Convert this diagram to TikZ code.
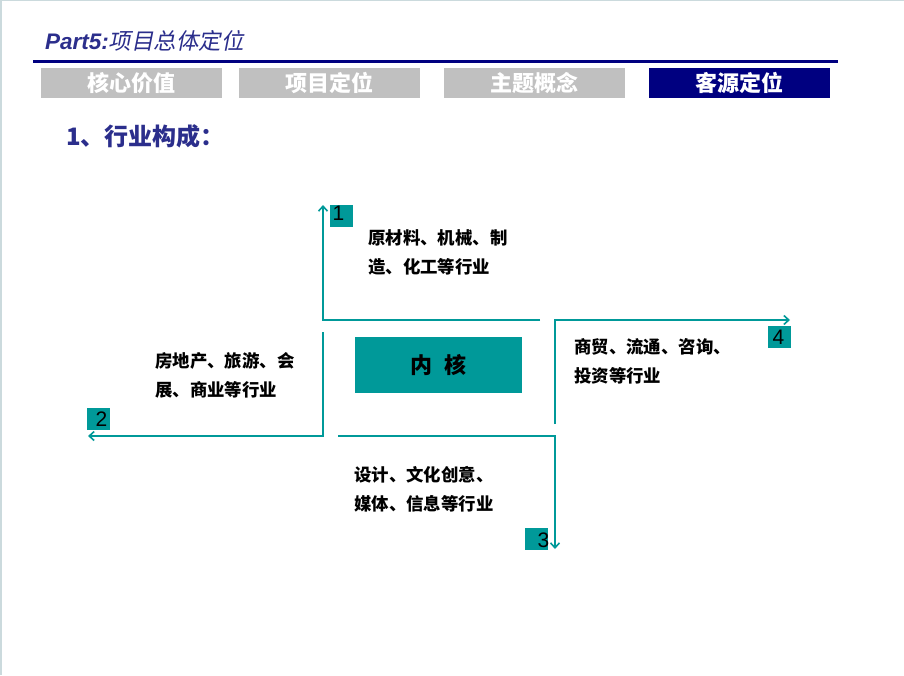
\documentclass[tikz,border=0pt]{standalone}
\usepackage{fontspec}
\setmainfont{Liberation Sans}
\newfontfamily\cjk{Noto Sans CJK SC}
\newfontfamily\cjkslant[FakeSlant=0.2]{Noto Sans CJK SC}
\usetikzlibrary{positioning, arrows.meta}
\definecolor{titleBlue}{HTML}{2B2E8C}
\definecolor{navyBar}{HTML}{000080}
\definecolor{tabGray}{HTML}{C0C0C0}
\definecolor{coreTeal}{HTML}{009999}
\definecolor{edgeGray}{HTML}{CBDADD}

\begin{document}
\begin{tikzpicture}[x=1pt, y=-1pt,
    tab/.style={minimum width=181pt, minimum height=30pt, inner sep=0pt, text=white,
        font=\cjk\bfseries\fontsize{22}{22}\selectfont},
    arm/.style={coreTeal, line width=1.6pt, >={Straight Barb[length=5pt, width=9pt]}},
    numbox/.style={fill=coreTeal, minimum width=23pt, minimum height=22pt, inner sep=0pt},
    numtext/.style={inner sep=0pt, text=black, font=\fontsize{21}{21}\selectfont},
    trade/.style={align=left, anchor=west, inner sep=0pt,
        font=\cjk\bfseries\fontsize{17.4}{29}\selectfont}]
    \useasboundingbox (0,0) rectangle (904,675);
    \fill[white] (0,0) rectangle (904,675);
    \fill[edgeGray] (0,0) rectangle (2,675);
    \fill[edgeGray] (0,0) rectangle (904,1);

    \node[anchor=base west, inner sep=0pt, text=titleBlue] (title) at (45,49)
        {\fontsize{22.5}{22.5}\selectfont\bfseries\itshape Part5:\cjkslant\mdseries 项目总体定位};
    \draw[navyBar, line width=3pt] (33,61) -- (838,61);

    \node[tab, fill=tabGray] (tabA) at (131.5,83) {核心价值};
    \node[tab, fill=tabGray] (tabB) at (329,83) {项目定位};
    \node[tab, fill=tabGray] (tabC) at (534.5,83) {主题概念};
    \node[tab, fill=navyBar] (tabD) at (739.5,83) {客源定位};

    \node[anchor=west, inner sep=0pt, text=titleBlue] (section) at (66,136)
        {\cjk\bfseries\fontsize{24}{24}\selectfont 1、行业构成：};

    \node[fill=coreTeal, minimum width=167pt, minimum height=56pt, inner sep=0pt] (core) at (438.5,365)
        {\cjk\bfseries\fontsize{22}{22}\selectfont 内\hspace{12pt}核};

    \coordinate (upEnd) at (540,320);
    \coordinate (upCorner) at (323,320);
    \coordinate (upTip) at (323,205);
    \coordinate (leftStart) at (323,332);
    \coordinate (leftCorner) at (323,436);
    \coordinate (leftTip) at (88,436);
    \coordinate (downStart) at (338,436);
    \coordinate (downCorner) at (555,436);
    \coordinate (downTip) at (555,549);
    \coordinate (rightStart) at (555,424);
    \coordinate (rightCorner) at (555,320);
    \coordinate (rightTip) at (790,320);

    \draw[arm, ->] (upEnd) -- (upCorner) -- (upTip);
    \draw[arm, ->] (leftStart) -- (leftCorner) -- (leftTip);
    \draw[arm, ->] (downStart) -- (downCorner) -- (downTip);
    \draw[arm, ->] (rightStart) -- (rightCorner) -- (rightTip);

    \node[numbox] (box1) at (341.5,216) {};
    \node[numtext] (num1) at (338.5,213) {1};
    \node[numbox] (box2) at (98.5,419) {};
    \node[numtext] (num2) at (101.5,419) {2};
    \node[numbox] (box3) at (536,538.5) {};
    \node[numtext] (num3) at (543.5,540.5) {3};
    \node[numbox] (box4) at (779,337) {};
    \node[numtext] (num4) at (778.5,337) {4};

    \node[trade] (raw) at (368,252.5) {原材料、机械、制\\造、化工等行业};
    \node[trade] (estate) at (155,375.5) {房地产、旅游、会\\展、商业等行业};
    \node[trade] (design) at (354,489.5) {设计、文化创意、\\媒体、信息等行业};
    \node[trade] (commerce) at (574,361.5) {商贸、流通、咨询、\\投资等行业};
\end{tikzpicture}
\end{document}
